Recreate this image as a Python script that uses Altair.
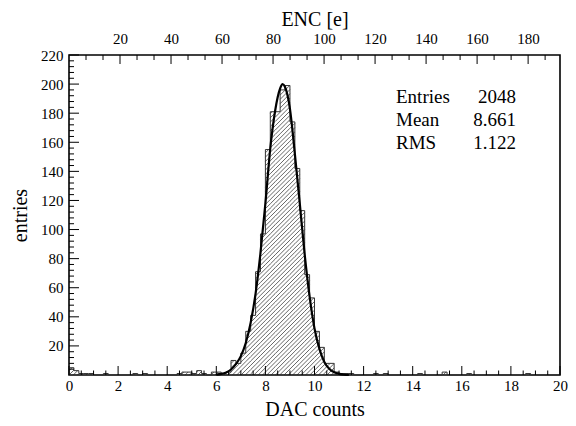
import altair as alt
import pandas as pd
import numpy as np

# ---------------- data ----------------
BIN_WIDTH = 0.2
counts = [
    5, 3, 1, 1, 1, 0, 0, 1, 0, 0,          # 0.0 - 2.0
    0, 0, 0, 1, 0, 1, 0, 0, 0, 0,          # 2.0 - 4.0
    0, 0, 1, 2, 2, 1, 3, 1, 0, 2,          # 4.0 - 6.0
    2, 1, 2, 10, 8, 15, 30, 41, 71, 97,    # 6.0 - 8.0
    155, 181, 181, 196, 199, 174, 142, 113, 69, 53,  # 8.0 - 10.0
    30, 19, 8, 8, 2, 1, 1, 1, 0, 0,        # 10.0 - 12.0
    0, 0, 1, 0, 1, 0, 0, 0, 0, 0,          # 12.0 - 14.0
    0, 1, 0, 0, 0, 0, 2, 0, 0, 0,          # 14.0 - 16.0
    0, 1, 0, 0, 0, 0, 0, 0, 0, 0,          # 16.0 - 18.0
    0, 0, 0, 1, 0, 0, 0, 0, 0, 0,          # 18.0 - 20.0
]

fit_x = [6.0, 6.2, 6.4, 6.6, 6.8, 7.0, 7.2, 7.4, 7.6, 7.8, 8.0, 8.2, 8.4, 8.6, 8.7,
         8.8, 9.0, 9.2, 9.4, 9.6, 9.8, 10.0, 10.2, 10.4, 10.6, 10.8, 11.0, 11.2, 11.4]
fit_y = [0.3, 0.8, 1.8, 3.8, 7.5, 13, 22, 36, 56, 84, 118, 156, 182, 197, 200,
         198, 183, 152, 118, 83, 54, 32, 18, 9, 4.3, 1.9, 0.8, 0.3, 0.1]

bottom_major = [0, 2, 4, 6, 8, 10, 12, 14, 16, 18, 20]
bottom_minor = [v / 2 for v in range(0, 41) if v % 4 != 0]
left_major = [20, 40, 60, 80, 100, 120, 140, 160, 180, 200, 220]
left_minor = [v for v in range(4, 220, 4) if v % 20 != 0]
top_major = [20, 40, 60, 80, 100, 120, 140, 160, 180]
top_minor = [round(k * 20 / 3, 3) for k in range(1, 29) if k % 3 != 0]

stat_labels = ["Entries", "Mean", "RMS"]
stat_values = ["2048", "8.661", "1.122"]

XMAX, YMAX, ENC_MAX = 20, 220, 192.5

# ---------------- layout ----------------
W, H = 491, 320
FONT = "Liberation Serif"

def xs():
    return alt.Scale(domain=[0, XMAX], nice=False, zero=False)

def es():
    return alt.Scale(domain=[0, ENC_MAX], nice=False, zero=False)

def ys():
    return alt.Scale(domain=[0, YMAX], nice=False, zero=False)

def y_axis():
    return alt.Axis(values=left_major, title="entries", orient="left",
                    labelPadding=6, titlePadding=10, format="d")

# step outline
edges = [round(i * BIN_WIDTH, 4) for i in range(len(counts) + 1)]
step_df = pd.DataFrame({"x": edges, "y": counts + [counts[-1]]})

# hatch pattern ("/" lines clipped to each bin)
sx, sy = W / XMAX, H / YMAX
SP = 4.3
segs = []
for i, h in enumerate(counts):
    if h <= 0:
        continue
    X0, X1, Hp = i * BIN_WIDTH * sx, (i + 1) * BIN_WIDTH * sx, h * sy
    for k in range(int(np.floor((X0 - Hp) / SP)) - 1, int(np.ceil(X1 / SP)) + 1):
        c = k * SP
        xa, xb = max(X0, c), min(X1, Hp + c)
        if xb - xa > 0.05:
            segs.append({"x0": xa / sx, "y0": (xa - c) / sy,
                         "x1": xb / sx, "y1": (xb - c) / sy})
hatch_df = pd.DataFrame(segs)

hatch = alt.Chart(hatch_df).mark_rule(stroke="#222", strokeWidth=0.7).encode(
    x=alt.X("x0:Q", scale=xs(), axis=None), x2="x1:Q",
    y=alt.Y("y0:Q", scale=ys(), axis=y_axis()), y2="y1:Q")

outline = alt.Chart(step_df).mark_line(interpolate="step-after", color="#333",
                                       strokeWidth=1).encode(
    x=alt.X("x:Q", scale=xs(), axis=None),
    y=alt.Y("y:Q", scale=ys(), axis=y_axis()))

fit = alt.Chart(pd.DataFrame({"x": fit_x, "y": fit_y})).mark_line(
    interpolate="monotone", color="black", strokeWidth=2.2).encode(
    x=alt.X("x:Q", scale=xs(), axis=None),
    y=alt.Y("y:Q", scale=ys(), axis=y_axis()))

bmaj = alt.Chart(pd.DataFrame({"v": bottom_major})).mark_rule(color="black", strokeWidth=1).encode(
    x=alt.X("v:Q", scale=xs(),
            axis=alt.Axis(values=bottom_major, title="DAC counts", orient="bottom",
                          labelPadding=3, titlePadding=6, format="d")),
    y=alt.value(H), y2=alt.value(H - 9))
bmin = alt.Chart(pd.DataFrame({"v": bottom_minor})).mark_rule(color="black", strokeWidth=1).encode(
    x=alt.X("v:Q", scale=xs(), axis=None),
    y=alt.value(H), y2=alt.value(H - 4.5))

lmaj = alt.Chart(pd.DataFrame({"v": left_major})).mark_rule(color="black", strokeWidth=1).encode(
    y=alt.Y("v:Q", scale=ys(), axis=y_axis()),
    x=alt.value(0), x2=alt.value(10))
lmin = alt.Chart(pd.DataFrame({"v": left_minor})).mark_rule(color="black", strokeWidth=1).encode(
    y=alt.Y("v:Q", scale=ys(), axis=y_axis()),
    x=alt.value(0), x2=alt.value(5))

texts = []
for i, (lab, val) in enumerate(zip(stat_labels, stat_values)):
    df = pd.DataFrame({"lab": [lab], "val": [val]})
    yb = 48 + 23 * i
    texts.append(alt.Chart(df).mark_text(align="left", baseline="alphabetic", font=FONT,
                                         fontSize=19, color="black").encode(
        text="lab:N", x=alt.value(327), y=alt.value(yb)))
    texts.append(alt.Chart(df).mark_text(align="right", baseline="alphabetic", font=FONT,
                                         fontSize=19, color="black").encode(
        text="val:N", x=alt.value(447), y=alt.value(yb)))

tmaj = alt.Chart(pd.DataFrame({"v": top_major})).mark_rule(color="black", strokeWidth=1).encode(
    x=alt.X("v:Q", scale=es(),
            axis=alt.Axis(values=top_major, title="ENC [e]", orient="top",
                          labelPadding=9, titlePadding=2, format="d")),
    y=alt.value(0), y2=alt.value(9))
tmin = alt.Chart(pd.DataFrame({"v": top_minor})).mark_rule(color="black", strokeWidth=1).encode(
    x=alt.X("v:Q", scale=es(), axis=None),
    y=alt.value(0), y2=alt.value(5))

chart = alt.layer(hatch, outline, fit, bmaj, bmin, lmaj, lmin, tmaj, tmin, *texts).resolve_scale(
    x="independent").properties(
    width=W, height=H,
    autosize=alt.AutoSizeParams(type="none"),
    padding={"left": 61, "top": 47, "right": 8, "bottom": 43},
).configure_view(stroke="black", strokeWidth=1.6).configure_axis(
    labelFont=FONT, labelFontSize=15, labelColor="black",
    titleFont=FONT, titleFontSize=20, titleFontWeight="normal", titleColor="black",
    grid=False, domain=False, ticks=False,
    labelOverlap=False, labelFlush=False,
)

chart.save("out.html", embed_options={"renderer": "svg", "actions": False})
